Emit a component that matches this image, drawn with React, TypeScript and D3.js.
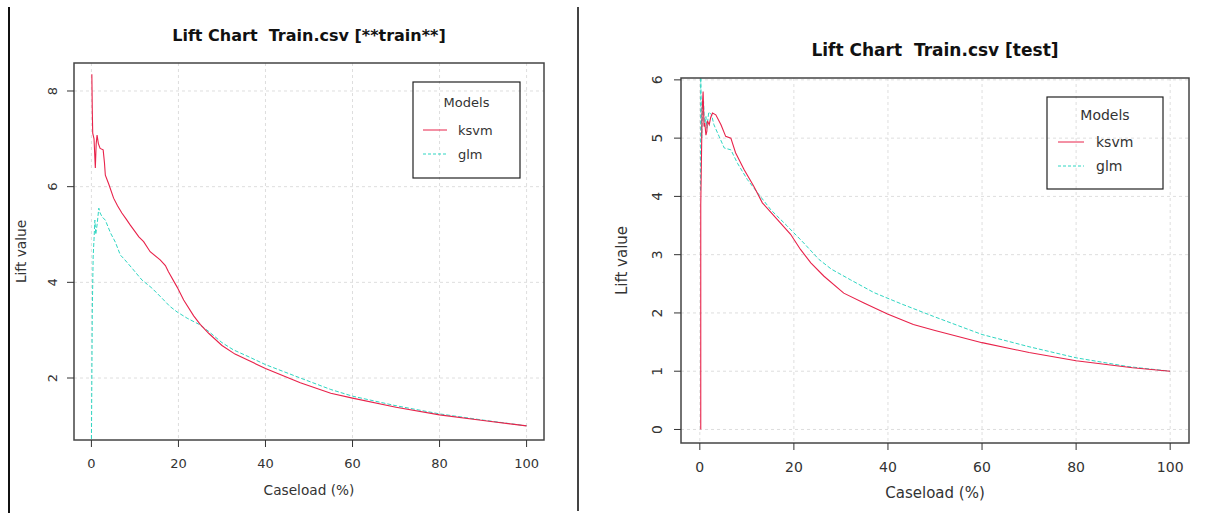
import * as d3 from 'd3';

// caseload ticks and lift ticks
const caseloadTicks = [0, 20, 40, 60, 80, 100];
const trainLiftTicks = [2, 4, 6, 8];
const testLiftTicks = [0, 1, 2, 3, 4, 5, 6];
const modelNames = ['ksvm', 'glm'];

// train panel, ksvm
const trainKsvmCaseload = [0.1, 0.2, 0.3, 0.6, 0.9, 1.1, 1.3, 1.6, 2.0, 2.7, 3.0, 3.2, 4.0, 5.1, 6.0, 7.0, 8.0, 8.9, 10.9, 12.0, 13.5, 15.8, 17.0, 17.7, 19.7, 21.2, 23.5, 25, 27, 30, 33, 35.8, 40, 48, 55, 60, 70, 80, 90, 100];
const trainKsvmLift = [8.35, 7.6, 7.12, 7.0, 6.39, 6.9, 7.08, 6.9, 6.8, 6.77, 6.5, 6.24, 6.05, 5.76, 5.6, 5.45, 5.32, 5.2, 4.95, 4.85, 4.64, 4.47, 4.35, 4.22, 3.9, 3.63, 3.3, 3.12, 2.93, 2.68, 2.5, 2.38, 2.2, 1.9, 1.68, 1.58, 1.39, 1.23, 1.11, 1.0];

// train panel, glm
const trainGlmCaseload = [0.0, 0.2, 0.4, 0.6, 0.8, 1.0, 1.3, 1.7, 2.0, 2.45, 3.2, 4.4, 5.5, 6.65, 7.4, 9.3, 11.6, 13.9, 16.2, 18.0, 19.7, 22.0, 25.0, 27, 30, 32.6, 36, 40, 48, 55, 60, 70, 80, 90, 100];
const trainGlmLift = [0.6, 3.36, 4.53, 4.9, 5.3, 5.0, 5.2, 5.55, 5.45, 5.37, 5.3, 5.03, 4.84, 4.57, 4.5, 4.3, 4.05, 3.88, 3.67, 3.5, 3.38, 3.25, 3.11, 2.97, 2.74, 2.59, 2.45, 2.28, 2.0, 1.76, 1.62, 1.42, 1.25, 1.12, 1.0];

// test panel, ksvm
const testKsvmCaseload = [0.2, 0.2, 0.5, 0.7, 0.9, 1.06, 1.3, 1.5, 1.6, 2.0, 2.3, 2.7, 3.4, 4.5, 5.5, 6.6, 7.6, 9.4, 11.5, 13.3, 16.5, 19.3, 21.4, 23.6, 26.4, 30.6, 34.9, 39.9, 45.4, 50, 60, 70, 80, 92, 100];
const testKsvmLift = [0.0, 3.85, 5.5, 5.8, 5.2, 5.26, 5.05, 5.12, 5.3, 5.23, 5.35, 5.43, 5.4, 5.23, 5.03, 5.0, 4.75, 4.46, 4.17, 3.89, 3.6, 3.35, 3.09, 2.86, 2.63, 2.34, 2.17, 1.98, 1.8, 1.7, 1.49, 1.32, 1.18, 1.06, 1.0];

// test panel, glm
const testGlmCaseload = [0.15, 0.2, 0.4, 0.6, 0.8, 1.0, 1.3, 1.5, 1.9, 2.5, 3.0, 4.1, 5.2, 6.6, 8.0, 10.1, 12.3, 15.1, 18.6, 22.1, 25.3, 28, 32, 37, 42.7, 49.7, 55, 60, 70, 80, 91, 100];
const testGlmLift = [4.1, 6.05, 5.0, 5.6, 5.63, 5.2, 5.37, 5.17, 5.45, 5.4, 5.23, 5.03, 4.83, 4.8, 4.57, 4.29, 4.06, 3.77, 3.49, 3.2, 2.92, 2.75, 2.57, 2.35, 2.16, 1.94, 1.78, 1.63, 1.42, 1.23, 1.08, 1.0];

const RED = '#e8224a';
const CYAN = '#2fd6c2';
const FONT = '"DejaVu Sans", Verdana, sans-serif';

type PanelProps = {
  id: string;
  title: string;
  left: number; right: number; top: number; bottom: number;
  yDomain: [number, number];
  yTicks: number[];
  ksvm: [number[], number[]];
  glm: [number[], number[]];
  fs: number;
  labelFs: number;
  titleFs: number;
  titleY: number;
  tickLabelY: number;
  yTickLabelX: number;
  yLabelX: number;
  xLabelY: number;
  legend: { x0: number; x1: number; y0: number; y1: number; headY: number; row1: number; row2: number; lineX0: number; lineX1: number; textX: number };
};

function Panel(p: PanelProps) {
  const x = d3.scaleLinear().domain([-4, 104]).range([p.left, p.right]);
  const y = d3.scaleLinear().domain(p.yDomain).range([p.bottom, p.top]);
  const line = d3.line<[number, number]>().x(d => x(d[0])).y(d => y(d[1]));
  const pts = (s: [number[], number[]]) => s[0].map((c, i) => [c, s[1][i]] as [number, number]);
  const cx = (p.left + p.right) / 2;
  const cy = (p.top + p.bottom) / 2;
  const lg = p.legend;

  return (
    <g fontFamily={FONT}>
      <defs>
        <clipPath id={p.id}>
          <rect x={p.left} y={p.top} width={p.right - p.left} height={p.bottom - p.top} />
        </clipPath>
      </defs>
      {/* grid */}
      {caseloadTicks.map(t => (
        <line key={'gx' + t} x1={x(t)} x2={x(t)} y1={p.top} y2={p.bottom} stroke="#dedede" strokeDasharray="3,3" />
      ))}
      {p.yTicks.map(t => (
        <line key={'gy' + t} x1={p.left} x2={p.right} y1={y(t)} y2={y(t)} stroke="#dedede" strokeDasharray="3,3" />
      ))}
      <g clipPath={`url(#${p.id})`}>
        <path d={line(pts(p.glm)) || ''} fill="none" stroke={CYAN} strokeWidth={1} strokeDasharray="4,2" />
        <path d={line(pts(p.ksvm)) || ''} fill="none" stroke={RED} strokeWidth={1.1} />
      </g>
      <rect x={p.left} y={p.top} width={p.right - p.left} height={p.bottom - p.top} fill="none" stroke="#444" strokeWidth={1.5} />
      {/* x axis */}
      {caseloadTicks.map(t => (
        <g key={'tx' + t}>
          <line x1={x(t)} x2={x(t)} y1={p.bottom} y2={p.bottom + 7} stroke="#333" />
          <text x={x(t)} y={p.tickLabelY} textAnchor="middle" fontSize={p.fs} fill="#333">{t}</text>
        </g>
      ))}
      {/* y axis */}
      {p.yTicks.map(t => (
        <g key={'ty' + t}>
          <line x1={p.left - 7} x2={p.left} y1={y(t)} y2={y(t)} stroke="#333" />
          <text transform={`translate(${p.yTickLabelX},${y(t)}) rotate(-90)`} textAnchor="middle" fontSize={p.fs} fill="#333">{t}</text>
        </g>
      ))}
      <text x={cx} y={p.titleY} textAnchor="middle" fontSize={p.titleFs} fontWeight="bold" fill="#111" style={{ whiteSpace: 'pre' }}>{p.title}</text>
      <text x={cx} y={p.xLabelY} textAnchor="middle" fontSize={p.labelFs} fill="#333">Caseload (%)</text>
      <text transform={`translate(${p.yLabelX},${cy}) rotate(-90)`} textAnchor="middle" fontSize={p.labelFs} fill="#333">Lift value</text>
      {/* legend */}
      <rect x={lg.x0} y={lg.y0} width={lg.x1 - lg.x0} height={lg.y1 - lg.y0} fill="none" stroke="#222" strokeWidth={1.2} />
      <text x={(lg.x0 + lg.x1) / 2} y={lg.headY} textAnchor="middle" dominantBaseline="central" fontSize={p.fs} fill="#333">Models</text>
      {modelNames.map((m, i) => {
        const ry = i === 0 ? lg.row1 : lg.row2;
        return (
          <g key={m}>
            <line x1={lg.lineX0} x2={lg.lineX1} y1={ry} y2={ry} stroke={i === 0 ? RED : CYAN} strokeDasharray={i === 0 ? undefined : '3,2'} />
            <text x={lg.textX} y={ry} dominantBaseline="central" fontSize={p.fs} fill="#333">{m}</text>
          </g>
        );
      })}
    </g>
  );
}

export default function App() {
  return (
    <svg width={1216} height={513} style={{ position: 'absolute', left: 0, top: 0, background: '#fff' }}>
      <rect width={1216} height={513} fill="#fff" />
      <line x1={9} x2={9} y1={7} y2={513} stroke="#111" strokeWidth={2} />
      <line x1={578} x2={578} y1={7} y2={511} stroke="#444" strokeWidth={2} />
      <Panel
        id="clipTrain"
        title="Lift Chart  Train.csv [**train**]"
        left={74} right={544} top={63} bottom={440}
        yDomain={[0.704, 8.585]}
        yTicks={trainLiftTicks}
        ksvm={[trainKsvmCaseload, trainKsvmLift]}
        glm={[trainGlmCaseload, trainGlmLift]}
        fs={13}
        labelFs={13.7}
        titleFs={16}
        titleY={41}
        tickLabelY={468}
        yTickLabelX={57}
        yLabelX={26}
        xLabelY={495}
        legend={{ x0: 413, x1: 520, y0: 82, y1: 178, headY: 102, row1: 130, row2: 154, lineX0: 423, lineX1: 447, textX: 458 }}
      />
      <Panel
        id="clipTest"
        title="Lift Chart  Train.csv [test]"
        left={681} right={1189} top={78} bottom={443}
        yDomain={[-0.232, 6.032]}
        yTicks={testLiftTicks}
        ksvm={[testKsvmCaseload, testKsvmLift]}
        glm={[testGlmCaseload, testGlmLift]}
        fs={14}
        labelFs={15}
        titleFs={17}
        titleY={56}
        tickLabelY={472}
        yTickLabelX={662}
        yLabelX={627}
        xLabelY={498}
        legend={{ x0: 1047, x1: 1163, y0: 97, y1: 189, headY: 115, row1: 142, row2: 166, lineX0: 1058, lineX1: 1084, textX: 1096 }}
      />
    </svg>
  );
}
